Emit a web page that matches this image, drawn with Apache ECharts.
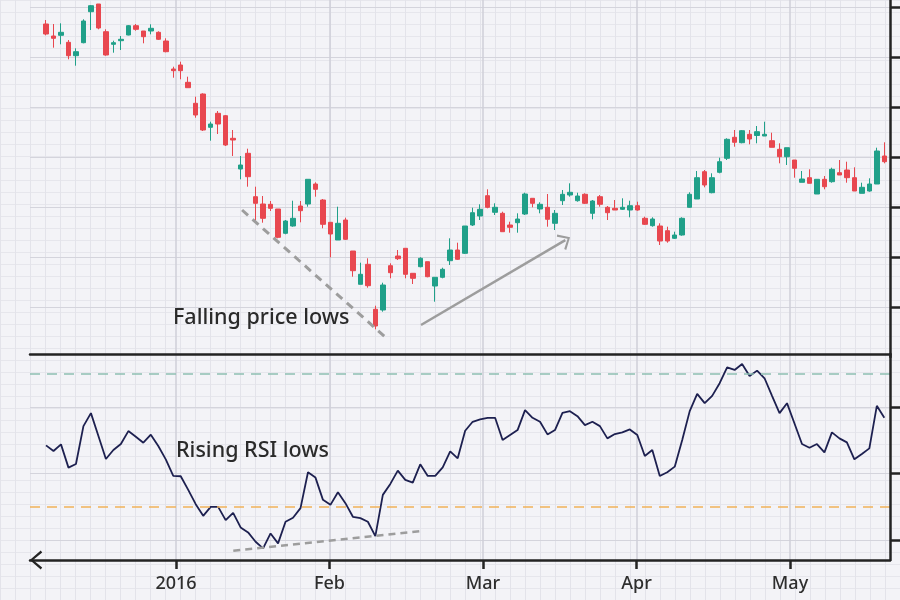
<!DOCTYPE html>
<html><head><meta charset="utf-8">
<script src="https://cdn.jsdelivr.net/npm/echarts/dist/echarts.min.js"></script>
<style>html,body{margin:0;padding:0;background:#f3f3f7}#c{width:900px;height:600px}</style>
</head><body><div id="c"></div>
<script>
// ---- data ----
const monthLabels = ['2016', 'Feb', 'Mar', 'Apr', 'May'];
const open = [53.30, 52.10, 52.17, 51.47, 50.13, 51.43, 54.53, 55.30, 52.53, 51.27,
 51.63, 52.20, 53.13, 52.60, 52.60, 52.47, 51.60, 48.80, 49.20, 47.47,
 45.37, 46.30, 42.97, 44.37, 44.13, 41.87, 38.80, 40.37, 36.03, 35.30,
 35.27, 34.80, 32.37, 33.10, 35.10, 35.30, 37.30, 35.70, 33.47, 31.70,
 33.70, 30.60, 27.27, 29.27, 24.77, 24.70, 29.13, 30.10, 30.87, 28.37,
 29.03, 29.53, 27.10, 27.97, 29.63, 30.70, 30.37, 33.20, 34.10, 36.13,
 34.47, 34.37, 33.20, 33.43, 34.30, 35.87, 34.80, 34.97, 33.37, 35.63,
 36.20, 35.63, 36.27, 34.37, 36.03, 34.97, 34.87, 34.77, 34.70, 35.13,
 33.87, 33.13, 33.10, 32.63, 31.87, 32.20, 34.97, 35.80, 38.53, 36.43,
 38.47, 39.87, 41.97, 41.43, 42.27, 42.15, 42.10, 41.63, 40.77, 40.03,
 39.70, 37.47, 37.93, 36.30, 37.77, 37.53, 38.43, 38.70, 37.93, 36.37,
 36.60, 37.30, 40.10];
const close = [52.30, 51.87, 52.47, 50.13, 50.53, 53.60, 55.13, 52.90, 50.20, 51.43,
 51.77, 53.13, 52.77, 52.03, 52.87, 51.77, 50.53, 48.63, 48.63, 46.93,
 44.20, 42.70, 43.30, 43.30, 41.20, 41.70, 39.20, 38.03, 35.37, 33.87,
 34.87, 31.97, 33.60, 33.87, 34.63, 37.77, 36.77, 33.27, 32.30, 33.37,
 31.77, 28.63, 28.27, 27.13, 23.10, 27.20, 28.43, 29.83, 28.27, 27.87,
 29.87, 28.03, 27.97, 28.77, 30.70, 29.77, 33.10, 34.43, 34.77, 34.97,
 34.97, 32.53, 32.97, 33.80, 36.30, 35.37, 35.27, 33.77, 34.37, 36.27,
 36.47, 36.10, 35.37, 35.60, 35.27, 34.43, 34.70, 34.97, 35.13, 34.70,
 33.27, 33.80, 31.60, 31.60, 32.20, 33.87, 36.27, 37.93, 37.20, 37.93,
 39.53, 41.77, 41.47, 42.63, 41.80, 42.53, 42.27, 40.97, 40.03, 40.93,
 38.87, 37.80, 37.37, 37.77, 37.03, 38.77, 38.20, 37.93, 36.60, 36.97,
 37.30, 40.60, 39.53];
const low = [52.17, 50.93, 51.27, 49.77, 49.13, 51.37, 52.70, 52.77, 50.13, 50.43,
 50.70, 52.17, 52.63, 51.37, 52.27, 51.70, 50.47, 47.93, 47.77, 46.93,
 43.93, 42.60, 41.63, 42.30, 41.10, 40.10, 37.77, 37.03, 33.63, 33.43,
 34.60, 31.87, 32.27, 33.03, 33.47, 35.03, 36.03, 32.87, 29.97, 31.70,
 31.70, 28.03, 27.27, 26.93, 22.77, 24.53, 27.87, 29.70, 27.87, 27.30,
 28.97, 27.97, 25.53, 27.87, 29.20, 29.70, 30.30, 33.10, 33.70, 34.87,
 34.20, 32.53, 32.43, 32.43, 34.20, 34.97, 34.37, 33.03, 32.70, 35.20,
 36.03, 35.53, 35.30, 33.77, 35.03, 33.70, 34.70, 34.70, 33.97, 34.63,
 33.20, 33.03, 31.20, 31.43, 31.80, 32.13, 34.93, 35.80, 36.97, 36.37,
 38.37, 39.70, 41.03, 41.37, 41.27, 41.37, 42.10, 40.97, 39.37, 39.20,
 37.93, 37.47, 37.37, 36.30, 36.77, 37.43, 38.20, 37.43, 36.60, 36.37,
 36.53, 37.30, 39.37];
const high = [53.70, 53.30, 53.37, 51.70, 50.87, 53.77, 55.20, 55.30, 52.77, 51.63,
 52.10, 53.20, 53.30, 52.60, 53.27, 52.57, 51.87, 49.03, 49.53, 48.03,
 46.03, 46.37, 43.53, 44.60, 44.20, 42.70, 40.10, 40.83, 37.03, 36.10,
 35.60, 34.80, 33.70, 35.63, 35.60, 37.77, 37.47, 35.80, 33.47, 35.03,
 33.93, 30.60, 29.43, 29.87, 25.13, 27.43, 29.37, 30.70, 30.87, 28.37,
 29.97, 29.53, 27.97, 28.93, 31.87, 31.43, 33.10, 34.93, 35.27, 36.77,
 35.37, 34.53, 33.53, 34.37, 36.43, 35.87, 35.47, 36.30, 34.70, 36.70,
 37.37, 36.43, 36.37, 35.70, 36.20, 35.10, 35.70, 35.87, 35.63, 35.53,
 34.03, 33.97, 33.37, 33.03, 32.53, 33.97, 36.47, 38.60, 38.70, 38.37,
 39.93, 41.87, 42.70, 42.70, 42.70, 43.10, 43.53, 42.43, 41.37, 40.93,
 39.70, 38.60, 38.77, 37.77, 38.10, 38.93, 39.70, 39.53, 38.97, 37.43,
 37.87, 40.93, 41.47];
const rsi = [48.5, 46.8, 48.8, 41.8, 42.9, 54.3, 58.2, 51.3, 44.4, 47.1,
 48.9, 52.8, 51.1, 49.3, 51.7, 48.3, 44.3, 39.3, 39.2, 35.1,
 30.8, 27.3, 30.0, 30.0, 26.0, 28.2, 23.8, 22.3, 19.5, 17.5,
 22.0, 19.0, 25.5, 26.7, 29.6, 40.4, 38.8, 32.1, 30.6, 34.4,
 31.1, 27.0, 26.6, 25.5, 21.2, 33.6, 36.9, 40.9, 38.1, 37.3,
 42.8, 39.3, 39.3, 41.9, 46.7, 44.6, 52.9, 55.6, 56.3, 56.8,
 56.8, 50.1, 51.6, 53.1, 59.1, 56.8, 55.6, 51.8, 53.1, 58.3,
 58.8, 57.3, 54.6, 55.6, 54.3, 50.6, 51.9, 52.4, 53.3, 51.6,
 45.3, 47.1, 39.3, 40.4, 42.1, 50.1, 58.8, 64.0, 61.2, 63.4,
 67.2, 72.0, 71.2, 73.0, 69.4, 71.0, 68.7, 63.4, 58.2, 61.2,
 55.1, 48.9, 47.8, 48.9, 46.4, 52.4, 50.6, 49.4, 44.3, 45.9,
 47.6, 60.4, 56.8];
const rsiOverbought = 70;
const rsiOversold = 30;
const priceLowsTrend = [[26.19, 34.7], [45.52, 21.87]];
const recoveryArrow = [[50.1, 23.2], [69.38, 31.69]];
const rsiLowsTrend = [[25.02, 16.8], [50.06, 22.7]];

// ---- build ----
const candles = open.map((o, i) => [i, o, close[i], low[i], high[i]]);
const rsiPts = rsi.map((v, i) => [i, v]);

const IDX_MIN = -2.14, IDX_MAX = 112.76;
const BLACK = '#232323';
const GREEN = '#20a089', RED = '#e8474f';
const FONT = '"Noto Sans", "Open Sans", sans-serif';
const CHEVRON = 'path://M0,11.5L10,0L20,11.5L18,13L10,3.4L2,13Z';
const off = () => ({ axisLine: { show: false, onZero: false }, axisTick: { show: false }, axisLabel: { show: false }, splitLine: { show: false } });
const g = (o) => Object.assign({ containLabel: false, outerBoundsMode: 'none', show: false }, o);

const chart = echarts.init(document.getElementById('c'), null, { renderer: 'canvas' });
chart.setOption({
  animation: false,
  backgroundColor: '#f3f3f7',
  grid: [
    g({ left: 30, right: 10, top: 0, height: 357 }),
    g({ left: 30, right: 10, top: 7, height: 300 }),
    g({ left: 30, right: 10, top: 354, height: 206 }),
    g({ left: 30, right: 10, top: 407.16, height: 132.9 }),
    g({ left: 176, right: 110, top: 0, height: 560 }),
    g({ left: 0, right: 0, top: 0, bottom: 0 })
  ],
  xAxis: [
    Object.assign(off(), { type: 'value', gridIndex: 0, min: IDX_MIN, max: IDX_MAX }),
    Object.assign(off(), { type: 'value', gridIndex: 1, min: 0, max: 1 }),
    Object.assign(off(), { type: 'value', gridIndex: 2, min: IDX_MIN, max: IDX_MAX, position: 'bottom', z: 6,
      axisLine: { show: true, onZero: false, symbol: [CHEVRON, 'none'], symbolSize: [19, 12.5], symbolOffset: [6, 0],
        lineStyle: { color: BLACK, width: 2.5 } } }),
    Object.assign(off(), { type: 'value', gridIndex: 2, min: IDX_MIN, max: IDX_MAX, position: 'top', z: 6,
      axisLine: { show: true, onZero: false, lineStyle: { color: BLACK, width: 2.5 } } }),
    Object.assign(off(), { type: 'value', gridIndex: 3, min: 0, max: 1 }),
    { type: 'category', gridIndex: 4, data: monthLabels, boundaryGap: false, position: 'bottom', z: 1,
      axisLine: { show: false, onZero: false },
      axisTick: { show: true, interval: 0, length: 9, lineStyle: { color: BLACK, width: 2.5 } },
      axisLabel: { show: true, interval: 0, margin: 15, color: '#2e2e2e', fontSize: 18, fontWeight: 500, fontFamily: FONT },
      splitLine: { show: true, interval: 0, lineStyle: { color: '#cfcfd8', width: 1.5 } } },
    Object.assign(off(), { type: 'value', gridIndex: 5, min: 0, max: 900, interval: 15, z: 0,
      splitLine: { show: true, lineStyle: { color: '#e3e3ea', width: 1 } } })
  ],
  yAxis: [
    Object.assign(off(), { type: 'value', gridIndex: 0, position: 'right', min: 20, max: 55.7, z: 6,
      axisLine: { show: true, onZero: false, lineStyle: { color: BLACK, width: 2.5 } } }),
    Object.assign(off(), { type: 'value', gridIndex: 1, position: 'right', min: 25, max: 55, interval: 5, z: 1,
      axisTick: { show: true, inside: false, length: 10, lineStyle: { color: BLACK, width: 2.5 } },
      splitLine: { show: true, lineStyle: { color: '#d4d4dc', width: 1 } } }),
    Object.assign(off(), { type: 'value', gridIndex: 2, position: 'right', min: 14, max: 76, z: 6,
      axisLine: { show: true, onZero: false, lineStyle: { color: BLACK, width: 2.5 } } }),
    Object.assign(off(), { type: 'value', gridIndex: 3, position: 'right', min: 20, max: 60, interval: 20, z: 1,
      axisTick: { show: true, inside: false, length: 10, lineStyle: { color: BLACK, width: 2.5 } },
      splitLine: { show: true, lineStyle: { color: '#d4d4dc', width: 1 } } }),
    Object.assign(off(), { type: 'value', gridIndex: 4 }),
    Object.assign(off(), { type: 'value', gridIndex: 5, min: 0, max: 600, interval: 12, z: 0,
      splitLine: { show: true, lineStyle: { color: '#e6e6ec', width: 1 } } })
  ],
  series: [
    {
      type: 'candlestick', xAxisIndex: 0, yAxisIndex: 0, data: candles,
      encode: { x: 0, y: [1, 2, 3, 4] }, barWidth: 5, z: 3,
      itemStyle: { color: GREEN, color0: RED, borderColor: GREEN, borderColor0: RED, borderWidth: 1 },
      markLine: {
        silent: true, symbol: ['none', 'none'], label: { show: false }, animation: false,
        data: [
          [{ coord: priceLowsTrend[0], lineStyle: { color: '#9d9d9d', width: 3, type: [8, 6] } }, { coord: priceLowsTrend[1] }],
          [{ coord: recoveryArrow[0], symbol: 'none', lineStyle: { color: '#9d9d9d', width: 2.5, type: 'solid' } },
           { coord: recoveryArrow[1], symbol: CHEVRON, symbolSize: [18, 11] }]
        ]
      }
    },
    {
      type: 'line', xAxisIndex: 2, yAxisIndex: 2, data: rsiPts, symbol: 'none', showSymbol: false, z: 3,
      lineStyle: { color: '#1d2050', width: 1.8 },
      markLine: {
        silent: true, symbol: ['none', 'none'], label: { show: false }, animation: false,
        data: [
          { yAxis: rsiOverbought, lineStyle: { color: '#8ec0b2', width: 1.5, type: [10, 7] } },
          { yAxis: rsiOversold, lineStyle: { color: '#f1b25a', width: 1.5, type: [10, 7] } },
          [{ coord: rsiLowsTrend[0], lineStyle: { color: '#9d9d9d', width: 2.5, type: [7, 5] } }, { coord: rsiLowsTrend[1] }]
        ]
      }
    }
  ],
  graphic: [
    { type: 'text', x: 173, y: 318, z: 20, style: { text: 'Falling price lows', fill: '#2a2a2a', font: '500 21.5px ' + FONT, verticalAlign: 'middle' } },
    { type: 'text', x: 176, y: 451, z: 20, style: { text: 'Rising RSI lows', fill: '#2a2a2a', font: '500 21.5px ' + FONT, verticalAlign: 'middle' } }
  ]
});
</script>
</body></html>
